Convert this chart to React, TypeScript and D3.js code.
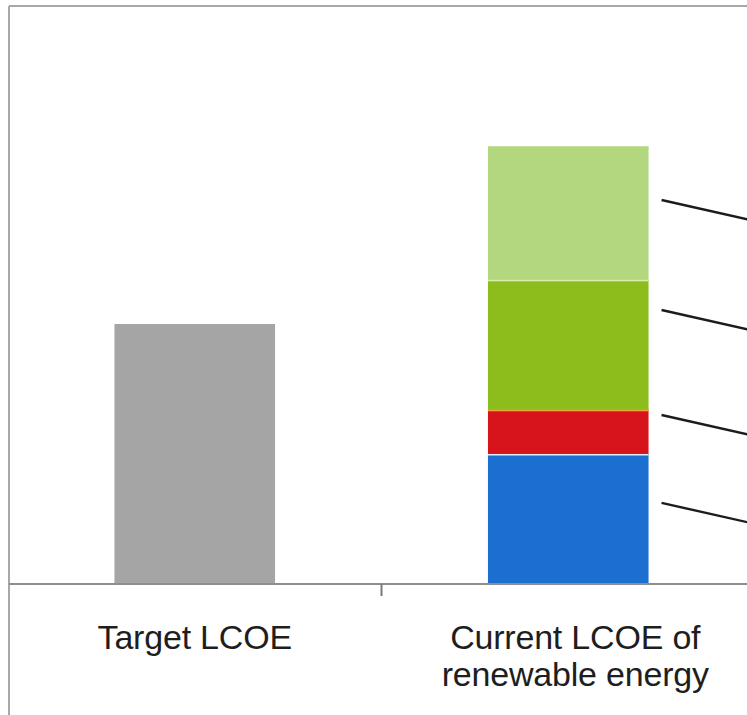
import React from "react";
import * as d3 from "d3";

// Categories on the x axis (second label wraps to two lines)
const categories = ["target", "current"];
const categoryLabels: string[][] = [
  ["Target LCOE"],
  ["Current LCOE of", "renewable energy"],
];

// Target LCOE (single bar)
const targetValue = 100;

// Current LCOE components, bottom to top
const componentKeys = ["base", "grid", "financing", "risk"];
const componentValues = [50, 17, 50, 51];

// Where each callout leader leaves the stacked bar (value units), bottom to top
const calloutAnchors = [31.2, 65, 105.4, 147.7];

const WIDTH = 747;
const HEIGHT = 715;

const colors: Record<string, string> = {
  target: "#a5a5a5",
  base: "#1b6fd0",
  grid: "#d7141b",
  financing: "#8cbd1c",
  risk: "#b2d77f",
};
// thin highlight seams on top of each component
const seams: Record<string, string> = {
  base: "#e4eef8",
  grid: "#f2a33a",
  financing: "#d9efaa",
  risk: "#b2d77f",
};

export default function App() {
  const baseline = 584;
  const x = d3
    .scaleBand<string>()
    .domain(categories)
    .range([8, 755])
    .paddingInner(0.57)
    .paddingOuter(0.285);
  const y = d3.scaleLinear().domain([0, 180]).range([baseline, baseline - 180 * 2.6]);

  const stack = d3.stack<Record<string, number>>().keys(componentKeys);
  const row: Record<string, number> = {};
  componentKeys.forEach((k, i) => (row[k] = componentValues[i]));
  const series = stack([row]);

  const bw = x.bandwidth();
  const xT = x("target")!;
  const xC = x("current")!;
  const tickX = xT + x.step() - (x.step() - bw) / 2;

  const leaderX0 = xC + bw + 13;
  const leaderX1 = WIDTH + 20;
  const slope = 0.225;

  const font = "'Liberation Sans', Arial, Helvetica, sans-serif";

  return (
    <svg
      width={WIDTH}
      height={HEIGHT}
      style={{ position: "absolute", left: 0, top: 0, background: "#fff" }}
    >
      {/* frame */}
      <line x1={9} y1={6} x2={WIDTH} y2={6} stroke="#a8a8a8" strokeWidth={2} />
      <line x1={9} y1={6} x2={9} y2={HEIGHT} stroke="#a8a8a8" strokeWidth={2} />

      {/* target bar */}
      <rect
        x={xT}
        y={y(targetValue)}
        width={bw}
        height={y(0) - y(targetValue)}
        fill={colors.target}
      />

      {/* stacked components */}
      {series.map((s) => {
        const [lo, hi] = s[0];
        return (
          <g key={s.key}>
            <rect x={xC} y={y(hi)} width={bw} height={y(lo) - y(hi)} fill={colors[s.key]} />
            <rect x={xC} y={y(hi) - 1} width={bw} height={2.5} fill={seams[s.key]} />
          </g>
        );
      })}

      {/* callout leaders */}
      {calloutAnchors.map((v, i) => (
        <line
          key={i}
          x1={leaderX0}
          y1={y(v)}
          x2={leaderX1}
          y2={y(v) + (leaderX1 - leaderX0) * slope}
          stroke="#1c1c1c"
          strokeWidth={2.4}
        />
      ))}

      {/* x axis */}
      <line x1={9} y1={baseline} x2={WIDTH} y2={baseline} stroke="#8e8e8e" strokeWidth={2} />
      <line x1={tickX} y1={baseline} x2={tickX} y2={baseline + 12} stroke="#7a7a7a" strokeWidth={2} />

      {/* category labels */}
      {categories.map((c, i) => {
        const cx = x(c)! + bw / 2 + (i === 1 ? 7 : 0);
        return (
          <text
            key={c}
            x={cx}
            y={649}
            textAnchor="middle"
            fontFamily={font}
            fontSize={34}
            fill="#1e1e1e"
            letterSpacing={-0.2}
          >
            {categoryLabels[i].map((line, j) => (
              <tspan key={j} x={cx} dy={j === 0 ? 0 : 37}>
                {line}
              </tspan>
            ))}
          </text>
        );
      })}
    </svg>
  );
}
